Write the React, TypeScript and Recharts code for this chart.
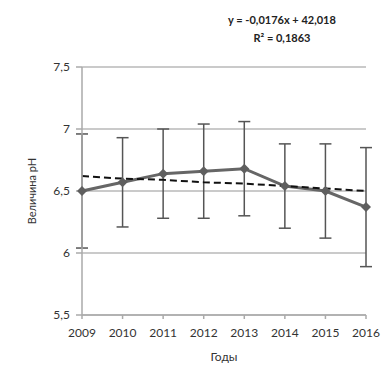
import { ComposedChart, Line, XAxis, YAxis, CartesianGrid, ErrorBar, Label } from 'recharts'

const years = [2009, 2010, 2011, 2012, 2013, 2014, 2015, 2016]
const phValues = [6.5, 6.57, 6.64, 6.66, 6.68, 6.54, 6.5, 6.37]
const phErrors = [0.46, 0.36, 0.36, 0.38, 0.38, 0.34, 0.38, 0.48]
const trendValues = [6.62, 6.6, 6.59, 6.57, 6.56, 6.54, 6.52, 6.5]
const yTicks = [5.5, 6, 6.5, 7, 7.5]

const data = years.map((year, i) => ({
  year,
  ph: phValues[i],
  err: phErrors[i],
  trend: trendValues[i],
}))

const font = 'Lato, "Open Sans", sans-serif'
const comma = (v: number) => String(v).replace('.', ',')

const Diamond = (props: any) => {
  const { cx, cy } = props
  if (cx == null || cy == null) return null
  const r = 5
  return (
    <polygon
      points={`${cx},${cy - r} ${cx + r},${cy} ${cx},${cy + r} ${cx - r},${cy}`}
      fill='#5f5f5f'
    />
  )
}

export default function App() {
  return (
    <div style={{ position: 'absolute', left: 0, top: 0, width: 382, height: 365, background: '#fff' }}>
      <ComposedChart
        width={382}
        height={365}
        data={data}
        margin={{ top: 67, right: 16, bottom: 2, left: 32 }}
      >
        <text x={282} y={24} textAnchor='middle' fontFamily={font} fontSize={11} fontWeight='bold' fill='#222'>
          y = -0,0176x + 42,018
        </text>
        <text x={282} y={42} textAnchor='middle' fontFamily={font} fontSize={11} fontWeight='bold' fill='#222'>
          R² = 0,1863
        </text>
        <CartesianGrid vertical={false} stroke='#b8b8b8' strokeWidth={1.5} />
        <XAxis
          dataKey='year'
          type='number'
          domain={[2009, 2016]}
          ticks={years}
          height={48}
          stroke='#aaa'
          strokeWidth={1.5}
          tickSize={4}
          tickMargin={9}
          tick={{ fontFamily: font, fontSize: 12, fill: '#333' }}
        >
          <Label value='Годы' position='insideBottom' offset={2} style={{ fontFamily: font, fontSize: 12, fill: '#333' }} />
        </XAxis>
        <YAxis
          type='number'
          domain={[5.5, 7.5]}
          ticks={yTicks}
          width={50}
          stroke='#aaa'
          strokeWidth={1.5}
          tickSize={6}
          tickMargin={6}
          tickFormatter={comma}
          tick={{ fontFamily: font, fontSize: 12, fill: '#333' }}
        >
          <Label
            value='Величина pH'
            angle={-90}
            position='insideLeft'
            offset={0}
            style={{ fontFamily: font, fontSize: 11, fill: '#333', textAnchor: 'middle' }}
          />
        </YAxis>
        <Line
          dataKey='ph'
          stroke='#666'
          strokeWidth={3}
          dot={<Diamond />}
          activeDot={false}
          isAnimationActive={false}
        >
          <ErrorBar dataKey='err' width={6} stroke='#555' strokeWidth={1.5} direction='y' />
        </Line>
        <Line
          dataKey='trend'
          stroke='#111'
          strokeWidth={2}
          strokeDasharray='7 4'
          dot={false}
          activeDot={false}
          isAnimationActive={false}
        />
      </ComposedChart>
    </div>
  )
}
